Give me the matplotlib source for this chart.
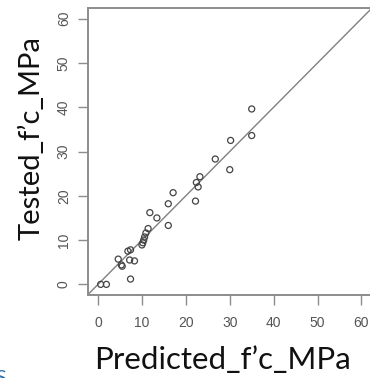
import matplotlib
matplotlib.use("Agg")
import matplotlib.pyplot as plt

predicted = [0.6, 1.9, 4.6, 5.3, 5.5, 6.8, 7.4, 7.2, 8.3, 7.4, 10.0, 10.2, 10.4, 10.6,
             10.9, 11.4, 11.8, 13.4, 16.0, 16.0, 17.1, 22.2, 22.4, 22.8, 23.2, 26.7,
             30.0, 30.2, 35.0, 35.0]
tested = [0, 0, 5.7, 4.4, 4.1, 7.5, 7.8, 5.5, 5.3, 1.2, 8.9, 9.4, 10.0, 10.7,
          11.6, 12.6, 16.2, 15.0, 13.3, 18.2, 20.7, 18.8, 23.0, 22.0, 24.3, 28.3,
          25.9, 32.5, 39.6, 33.6]
ticks = [0, 10, 20, 30, 40, 50, 60]
lim = (-2.4, 62.4)

W, H = 370, 378
fig = plt.figure(figsize=(W / 100, H / 100), dpi=100)
left, right, top, bottom = 87.5, 372.0, 8.0, 295.0
ax = fig.add_axes([left / W, 1 - bottom / H, (right - left) / W, (bottom - top) / H])
ax.set_xlim(lim)
ax.set_ylim(lim)

ax.plot(lim, lim, color='#808080', lw=1.0, zorder=1)
ax.scatter(predicted, tested, s=19, facecolors='none', edgecolors='#444444',
           linewidths=0.9, zorder=2)

for s in ax.spines.values():
    s.set_color('#8c8c8c')
    s.set_linewidth(1.4)

ax.set_xticks(ticks)
ax.set_yticks(ticks)
ax.tick_params(axis='both', direction='out', length=7, width=1.0, color='#8c8c8c',
               labelsize=10, labelcolor='#555555')
ax.tick_params(axis='x', pad=8)
ax.tick_params(axis='y', pad=5)
ax.set_xticklabels([str(t) for t in ticks], fontfamily='Liberation Sans')
ax.set_yticklabels([str(t) for t in ticks], fontfamily='Liberation Sans',
                   rotation=90, va='center')

fig.text(223 / W, 1 - 360 / H, 'Predicted_f\u2019c_MPa', ha='center', va='center',
         fontsize=22.5, fontfamily='Lato', color='#111111')
fig.text(31 / W, 1 - 138 / H, 'Tested_f\u2019c_MPa', ha='center', va='center',
         rotation=90, fontsize=21, fontfamily='Lato', color='#111111')
fig.text(-0.012, 1 - 378 / H, 'S', ha='left', va='center', fontsize=14,
         fontfamily='Lato', color='#2e75b6')

fig.savefig('out.png', dpi=100)
